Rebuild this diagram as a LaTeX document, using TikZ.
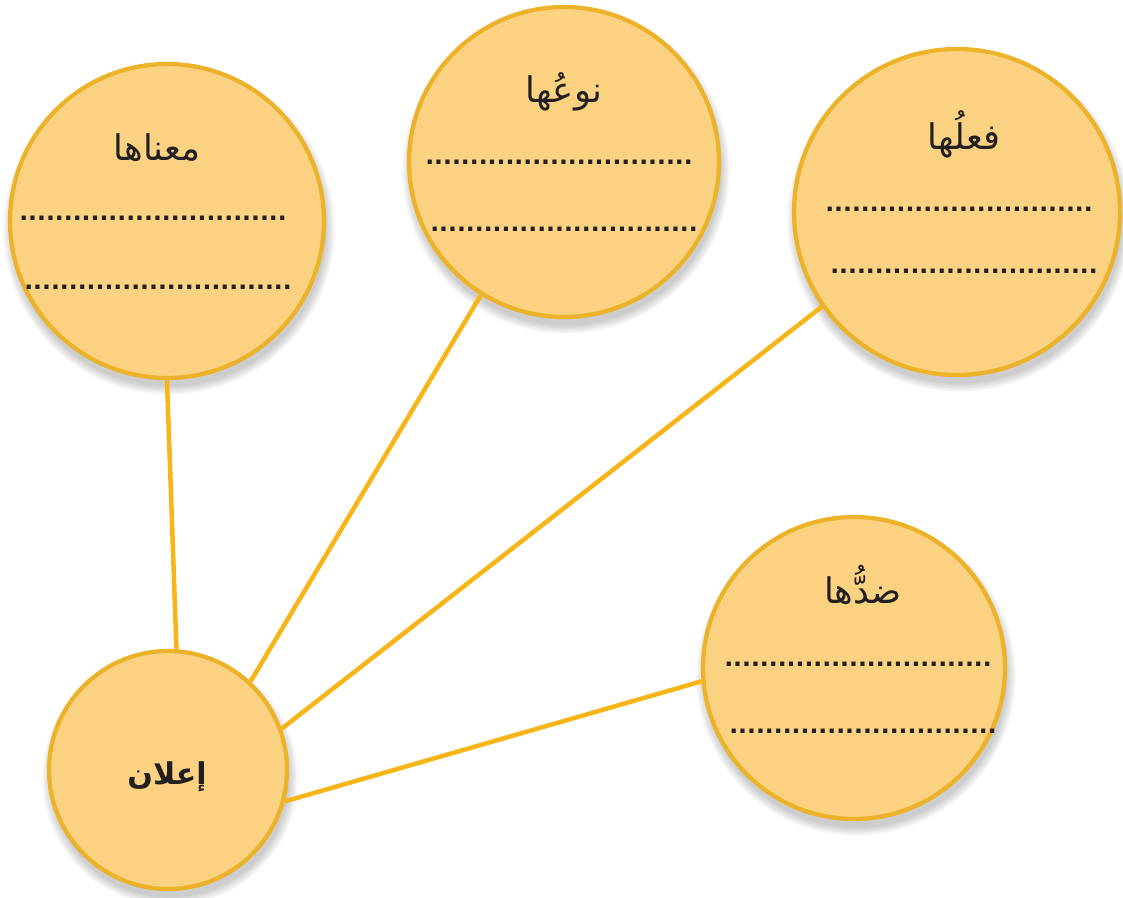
\documentclass[tikz,border=0pt]{standalone}
\usepackage{fontspec}
\TeXXeTstate=1
\newfontfamily\arabicfont[Script=Arabic]{DejaVu Sans}
\newfontfamily\dotfont{DejaVu Sans}
\usetikzlibrary{backgrounds}
\pgfdeclarelayer{shadow}
\pgfsetlayers{shadow,background,main}
\definecolor{fillc}{HTML}{FAD281}
\definecolor{borderc}{HTML}{ECB32A}
\definecolor{linec}{HTML}{F7B519}
\definecolor{txt}{HTML}{231F20}
\begin{document}
\begin{tikzpicture}[x=0.75pt,y=-0.75pt,
 circ/.style={circle, draw=borderc, fill=fillc, line width=3.2pt, inner sep=0pt},
 lbl/.style={font=\arabicfont\fontsize{26.5}{30}\selectfont, text=txt, inner sep=0pt},
 dotrow/.style={font=\dotfont\bfseries\fontsize{17.6}{22}\selectfont, text=txt, inner sep=0pt, anchor=base west},
 conn/.style={draw=linec, line width=3.4pt}]
\useasboundingbox (0,0) rectangle (1123,898);
\node[circ, minimum size=235.5pt] (m) at (167,221) {};
\node[circ, minimum size=232.5pt] (n) at (564,162) {};
\node[circ, minimum size=244.5pt] (f) at (957,212) {};
\node[circ, minimum size=226.5pt] (d) at (854,668) {};
\node[circ, minimum size=178.5pt] (a) at (168,770) {};
% labels
\node[lbl] (tm) at (157,148) {\beginR معناها\endR};
\node[lbl] (tn) at (564,92) {\beginR نوعُها\endR};
\node[lbl] (tf) at (964,134) {\beginR فعلُها\endR};
\node[lbl] (td) at (863,585) {\beginR ضدُّها\endR};
\node[lbl, font=\arabicfont\bfseries\fontsize{22.5}{27}\selectfont] (ta) at (167,777) {\beginR إعلان\endR};
% dotted rows
\node[dotrow] (m1) at (19,221) {..............................};
\node[dotrow] (m2) at (24,290) {..............................};
\node[dotrow] (n1) at (425,165) {..............................};
\node[dotrow] (n2) at (430,232) {..............................};
\node[dotrow] (f1) at (825,212) {..............................};
\node[dotrow] (f2) at (830,274) {..............................};
\node[dotrow] (d1) at (724,666) {..............................};
\node[dotrow] (d2) at (729,733) {..............................};
\begin{pgfonlayer}{background}
\draw[conn] (a.86) -- (m.270);
\draw[conn] (a.47) -- (n.238);
\draw[conn] (a.20) -- (f.215);
\draw[conn] (a.345) -- (d.185);
\end{pgfonlayer}
\begin{pgfonlayer}{shadow}
\foreach \n/\r in {m/159,n/157,f/165,d/153,a/121}{
  \foreach \k in {1,...,6}{
    \fill[black, opacity=0.035] ([shift={(2,8)}]\n.center) circle[radius=\r+\k*1.6-3];
  }
}
\end{pgfonlayer}
\end{tikzpicture}
\end{document}
